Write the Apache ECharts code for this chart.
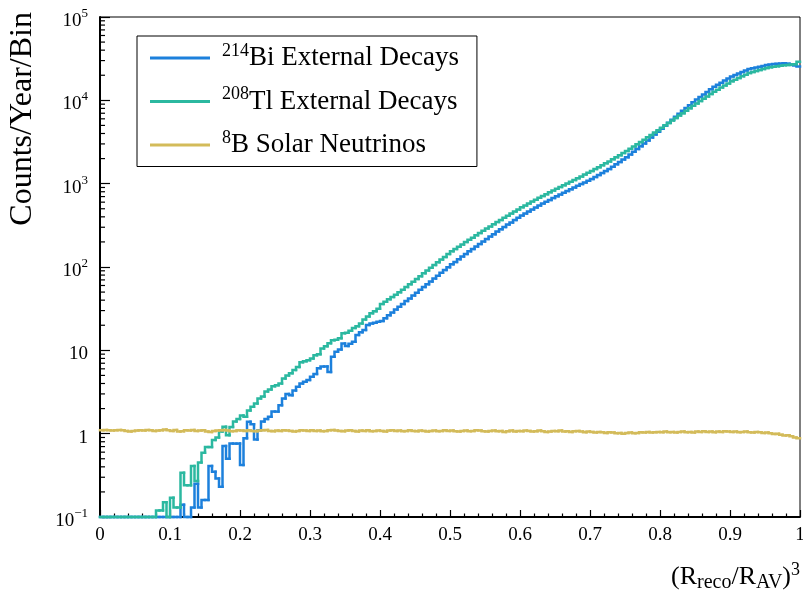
<!DOCTYPE html>
<html>
<head>
<meta charset="utf-8">
<script src="https://cdn.jsdelivr.net/npm/echarts@6/dist/echarts.min.js"></script>
<style>
  html, body { margin: 0; padding: 0; background: #fff; }
  #chart { width: 803px; height: 597px; }
</style>
</head>
<body>
<div id="chart"></div>
<script>
// Histogram binning on (R_reco/R_AV)^3: 200 bins of width 0.005
const binWidth = 0.005;

const xTickLabels = ['0', '0.1', '0.2', '0.3', '0.4', '0.5', '0.6', '0.7', '0.8', '0.9', '1'];
const yTickValues = [0.1, 1, 10, 100, 1000, 10000, 100000];
const yTickLabels = ['{b|10}{e|\u22121}', '{b|1}', '{b|10}', '{b|10}{e|2}', '{b|10}{e|3}', '{b|10}{e|4}', '{b|10}{e|5}'];

const seriesNames = ['214Bi External Decays', '208Tl External Decays', '8B Solar Neutrinos'];
const legendLabels = [
  '{s|214}{t|Bi External Decays}',
  '{s|208}{t|Tl External Decays}',
  '{s|8}{t|B Solar Neutrinos}'
];

// Counts/Year/Bin per bin (empty bins sit on the 0.1 floor)
const bi214 = [
  0.1, 0.1, 0.1, 0.1, 0.1, 0.1, 0.1, 0.1, 0.1, 0.1,
  0.1, 0.1, 0.1, 0.1, 0.1, 0.1, 0.1, 0.1, 0.1, 0.1,
  0.1, 0.1, 0.1, 0.14, 0.1, 0.1, 0.13, 0.25, 0.13, 0.16,
  0.16, 0.41, 0.35, 0.29, 0.23, 0.71, 0.5, 0.76, 0.76, 0.76,
  0.42, 0.88, 1.39, 1.3, 0.85, 1.1, 1.4, 1.5, 1.6, 1.84,
  1.84, 2.2, 2.65, 3.0, 2.9, 3.3, 3.66, 4.0, 4.2, 4.4,
  4.83, 5.2, 6.1, 6.4, 6.4, 5.5, 8.4, 9.6, 10.2, 12.1,
  11.3, 12.0, 12.7, 15.3, 16.5, 17.5, 20.1, 21.0, 21.5, 22.0,
  22.5, 24.3, 26.4, 28.4, 30.8, 33.3, 35.9, 39.0, 42.0, 45.6,
  49.2, 53.3, 57.5, 62.3, 67.2, 72.8, 78.6, 85.2, 92.0, 99.6,
  108, 115, 124, 134, 143, 154, 165, 176, 189, 203,
  217, 233, 248, 266, 284, 303, 323, 343, 366, 389,
  414, 438, 463, 490, 519, 548, 577, 606, 638, 671,
  706, 742, 778, 815, 855, 898, 942, 989, 1035, 1086,
  1140, 1205, 1271, 1343, 1416, 1496, 1596, 1706, 1820, 1945,
  2075, 2240, 2415, 2606, 2812, 3034, 3296, 3573, 3882, 4207,
  4571, 4966, 5395, 5861, 6368, 6918, 7482, 8091, 8750, 9462,
  10230, 10960, 11780, 12620, 13550, 14520, 15380, 16290, 17260, 18280,
  19360, 20180, 20990, 21880, 22750, 23710, 24270, 24770, 25350, 25880,
  26610, 26920, 27230, 27540, 27730, 27860, 27540, 26920, 26180, 25410
];

const tl208 = [
  0.1, 0.1, 0.1, 0.1, 0.1, 0.1, 0.1, 0.1, 0.1, 0.1,
  0.1, 0.1, 0.1, 0.1, 0.1, 0.1, 0.12, 0.12, 0.15, 0.1,
  0.17, 0.13, 0.13, 0.34, 0.24, 0.24, 0.41, 0.27, 0.45, 0.59,
  0.69, 0.69, 0.84, 0.9, 1.06, 1.21, 0.96, 1.2, 1.4, 1.5,
  1.65, 1.6, 1.9, 2.1, 2.3, 2.65, 2.8, 3.2, 3.4, 3.7,
  3.8, 4.0, 4.6, 5.0, 5.3, 5.8, 6.3, 7.2, 7.4, 7.6,
  8.0, 8.7, 9.0, 10.5, 11.2, 12.2, 13.2, 13.4, 14.0, 16.0,
  16.3, 17.2, 18.5, 19.5, 21.0, 23.5, 25.5, 27.8, 29.5, 31.5,
  36.0, 38.4, 40.9, 43.6, 46.6, 49.7, 53.5, 57.5, 61.9, 66.7,
  71.8, 77.6, 84.0, 90.8, 98.2, 106, 114, 123, 132, 143,
  154, 164, 175, 186, 199, 212, 225, 240, 255, 272,
  289, 307, 326, 346, 367, 390, 413, 438, 463, 491,
  520, 548, 578, 610, 643, 678, 713, 748, 787, 826,
  869, 912, 957, 1005, 1054, 1107, 1164, 1222, 1285, 1352,
  1419, 1496, 1578, 1663, 1754, 1849, 1959, 2075, 2198, 2328,
  2466, 2624, 2793, 2972, 3162, 3365, 3597, 3846, 4102, 4385,
  4688, 5012, 5358, 5741, 6138, 6561, 7015, 7499, 8035, 8590,
  9183, 9795, 10450, 11140, 11890, 12680, 13430, 14220, 15070, 15960,
  16900, 17700, 18540, 19410, 20320, 21280, 21880, 22490, 23120, 23770,
  24430, 24890, 25350, 25700, 26060, 26360, 26610, 26850, 27040, 29000
];

const b8 = [
  1.10, 1.11, 1.10, 1.09, 1.10, 1.11, 1.10, 1.08, 1.06, 1.08,
  1.09, 1.10, 1.09, 1.11, 1.10, 1.08, 1.09, 1.10, 1.12, 1.10,
  1.08, 1.11, 1.06, 1.07, 1.10, 1.09, 1.11, 1.08, 1.09, 1.10,
  1.06, 1.05, 1.08, 1.09, 1.10, 1.11, 1.09, 1.07, 1.08, 1.10,
  1.09, 1.08, 1.10, 1.08, 1.07, 1.09, 1.10, 1.11, 1.08, 1.07,
  1.09, 1.08, 1.10, 1.09, 1.08, 1.06, 1.08, 1.10, 1.09, 1.08,
  1.10, 1.08, 1.09, 1.07, 1.08, 1.10, 1.11, 1.09, 1.08, 1.07,
  1.09, 1.10, 1.08, 1.06, 1.09, 1.08, 1.10, 1.07, 1.08, 1.09,
  1.08, 1.06, 1.09, 1.10, 1.08, 1.09, 1.07, 1.08, 1.10, 1.08,
  1.07, 1.09, 1.08, 1.06, 1.08, 1.09, 1.07, 1.08, 1.10, 1.08,
  1.09, 1.07, 1.06, 1.08, 1.09, 1.07, 1.08, 1.10, 1.09, 1.07,
  1.06, 1.08, 1.09, 1.07, 1.08, 1.05, 1.07, 1.09, 1.06, 1.08,
  1.07, 1.09, 1.08, 1.06, 1.07, 1.09, 1.07, 1.05, 1.06, 1.08,
  1.07, 1.09, 1.06, 1.07, 1.05, 1.07, 1.08, 1.06, 1.04, 1.06,
  1.05, 1.03, 1.05, 1.04, 1.02, 1.04, 1.03, 1.01, 1.02, 1.00,
  1.02, 1.03, 1.01, 1.02, 1.04, 1.03, 1.05, 1.03, 1.04, 1.05,
  1.04, 1.06, 1.04, 1.05, 1.03, 1.05, 1.06, 1.04, 1.05, 1.03,
  1.06, 1.05, 1.07, 1.05, 1.06, 1.04, 1.06, 1.05, 1.07, 1.06,
  1.05, 1.06, 1.04, 1.05, 1.06, 1.04, 1.03, 1.05, 1.04, 1.02,
  1.03, 1.01, 0.99, 1.00, 0.97, 0.95, 0.96, 0.93, 0.90, 0.88
];

const colors = ['#1c80dc', '#2bb8a0', '#d3bb5a'];
const serif = 'Liberation Serif';

// One item per bin: [left edge, right edge, content, previous bin content]
function toBins(values) {
  return values.map((v, i) => [
    +(i * binWidth).toFixed(3),
    +((i + 1) * binWidth).toFixed(3),
    v,
    i > 0 ? values[i - 1] : v
  ]);
}

// Each bin draws its rising/falling edge plus its flat top, as in a step histogram
function renderBin(params, api) {
  const xl = api.value(0), xr = api.value(1), v = api.value(2), prev = api.value(3);
  const a = api.coord([xl, prev]);
  const b = api.coord([xl, v]);
  const c = api.coord([xr, v]);
  return {
    type: 'polyline',
    shape: { points: [a, b, c] },
    style: { stroke: api.visual('color'), lineWidth: 2.5, fill: null, lineCap: 'square', lineJoin: 'miter' }
  };
}

// Minor tick positions 2..9 x 10^k on the log axis
const minorY = [];
for (let k = -1; k <= 4; k++) {
  for (let m = 2; m <= 9; m++) minorY.push([0, m * Math.pow(10, k)]);
}

const chart = echarts.init(document.getElementById('chart'), null, { renderer: 'canvas' });

const histSeries = [bi214, tl208, b8].map((vals, idx) => ({
  name: seriesNames[idx],
  type: 'custom',
  silent: true,
  data: toBins(vals),
  encode: { x: [0, 1], y: [2, 3] },
  itemStyle: { color: colors[idx] },
  renderItem: renderBin,
  z: 3 + idx
}));

chart.setOption({
  animation: false,
  backgroundColor: '#fff',
  grid: {
    left: 100, right: 3, top: 17, bottom: 80,
    containLabel: false, outerBoundsMode: 'none',
    show: true, borderColor: '#000', borderWidth: 1, backgroundColor: 'transparent'
  },
  xAxis: {
    type: 'value', min: 0, max: 1, interval: 0.1,
    axisLine: { lineStyle: { color: '#000', width: 2 } },
    axisTick: { inside: true, length: 7, lineStyle: { color: '#000', width: 1.2 } },
    minorTick: { show: true, splitNumber: 5, length: 3.5, lineStyle: { color: '#000', width: 1.2 } },
    splitLine: { show: false },
    axisLabel: {
      margin: 9, color: '#000', fontFamily: serif, fontSize: 19,
      formatter: v => xTickLabels[Math.round(v * 10)]
    },
    name: '{p|(R}{s|reco}{p|/R}{s|AV}{p|)}{u|3}',
    nameLocation: 'end',
    nameGap: 0,
    nameTextStyle: {
      align: 'right', verticalAlign: 'top', padding: [44, 0, 0, 0],
      rich: {
        p: { fontFamily: serif, fontSize: 26, lineHeight: 32, color: '#000' },
        s: { fontFamily: serif, fontSize: 20, lineHeight: 17, verticalAlign: 'bottom', color: '#000' },
        u: { fontFamily: serif, fontSize: 18, lineHeight: 16, verticalAlign: 'top', color: '#000' }
      }
    }
  },
  yAxis: {
    type: 'log', logBase: 10, min: 0.1, max: 100000,
    axisLine: { lineStyle: { color: '#000', width: 2 } },
    axisTick: { inside: true, length: 10, lineStyle: { color: '#000', width: 1.2 } },
    splitLine: { show: false },
    axisLabel: {
      margin: 12, color: '#000', padding: [8, 0, 0, 0],
      formatter: v => {
        const i = yTickValues.findIndex(t => Math.abs(Math.log10(t) - Math.log10(v)) < 1e-6);
        return i >= 0 ? yTickLabels[i] : '';
      },
      rich: {
        b: { fontFamily: serif, fontSize: 19, lineHeight: 28, color: '#000' },
        e: { fontFamily: serif, fontSize: 13, lineHeight: 14, verticalAlign: 'top', color: '#000' }
      }
    }
  },
  legend: {
    data: seriesNames,
    orient: 'vertical',
    left: 137, top: 36,
    padding: [6, 18, 8, 13],
    itemGap: 14,
    icon: 'rect',
    itemWidth: 60, itemHeight: 3,
    borderColor: '#000', borderWidth: 1, borderRadius: 0,
    backgroundColor: '#fff',
    formatter: name => legendLabels[seriesNames.indexOf(name)],
    textStyle: {
      rich: {
        s: { fontFamily: serif, fontSize: 18, lineHeight: 16, verticalAlign: 'top', padding: [0, 0, 0, 7], color: '#000' },
        t: { fontFamily: serif, fontSize: 27, lineHeight: 32, color: '#000' }
      }
    }
  },
  graphic: [{
    type: 'text',
    x: 22.5, y: 12,
    rotation: Math.PI / 2,
    style: {
      text: 'Counts/Year/Bin',
      font: '32px "Liberation Serif"',
      fill: '#000',
      align: 'right',
      verticalAlign: 'middle'
    }
  }],
  series: [
    ...histSeries,
    {
      type: 'custom',
      silent: true,
      data: minorY,
      z: 10,
      renderItem: (params, api) => {
        const p = api.coord([0, api.value(1)]);
        return {
          type: 'line',
          shape: { x1: p[0], y1: p[1], x2: p[0] + 5, y2: p[1] },
          style: { stroke: '#000', lineWidth: 1.2 }
        };
      }
    }
  ]
});
</script>
</body>
</html>
